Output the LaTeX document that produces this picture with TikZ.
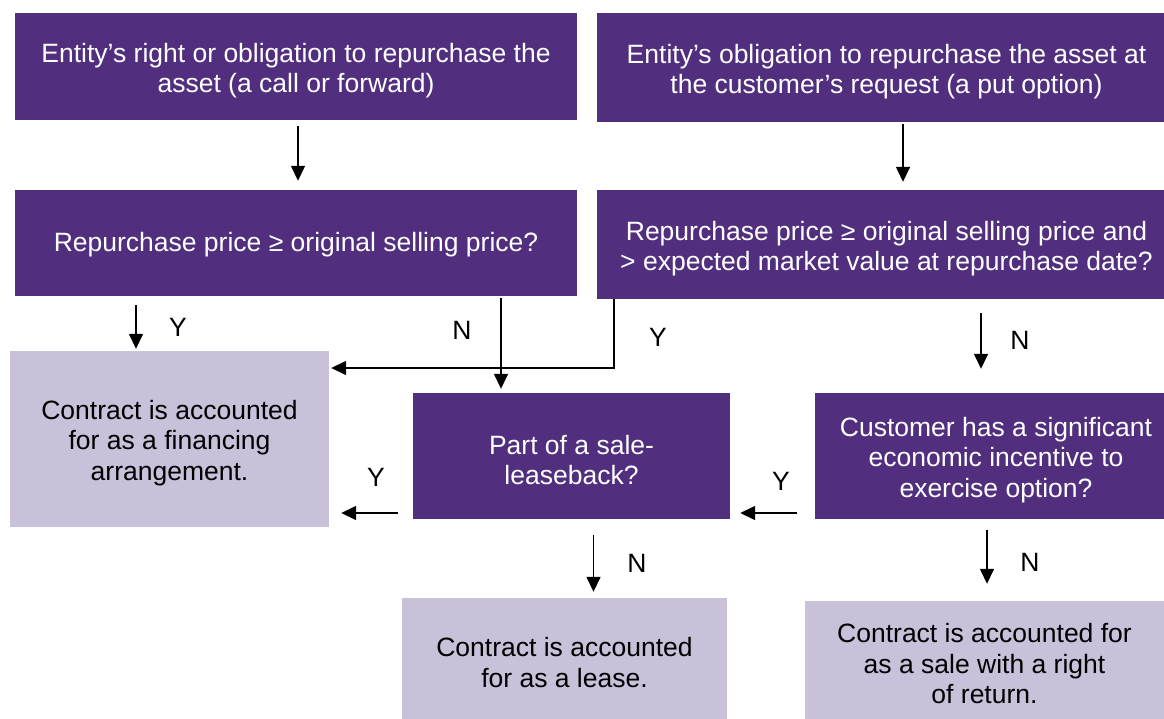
\documentclass[tikz,border=0pt]{standalone}
\usepackage{fontspec}
\setmainfont{Liberation Sans}
\usetikzlibrary{arrows.meta,calc}
\definecolor{dpurp}{HTML}{512F7E}
\definecolor{lpurp}{HTML}{C9C0DA}
\begin{document}
\begin{tikzpicture}[x=1pt,y=-1pt,
  lab/.style={font=\fontsize{26.5}{30.5}\selectfont, inner sep=0pt},
  box/.style={rectangle, inner sep=0pt},
  dark/.style={box, fill=dpurp},
  light/.style={box, fill=lpurp},
  dk/.style={dark, label={[lab,text=white,align=center,yshift=-4pt]center:{#1}}},
  dks/.style={dark, label={[lab,text=white,align=center,yshift=-1.5pt]center:{#1}}},
  lt/.style={light, label={[lab,text=black,align=center,yshift=-4pt]center:{#1}}},
  arr/.style={-{Triangle[length=15pt,width=14pt]}, line width=1.5pt}]
\useasboundingbox (0,0) rectangle (1164,719);
\clip (0,0) rectangle (1164,719);
% boxes
\node[dk={Entity’s right or obligation to repurchase the\\asset (a call or forward)},
  minimum width=562pt, minimum height=107pt] (tl) at (296,66.5) {};
\node[dk={Entity’s obligation to repurchase the asset at\\the customer’s request (a put option)},
  minimum width=579pt, minimum height=109pt] (tr) at (886.5,67.5) {};
\node[dks={Repurchase price ≥ original selling price?},
  minimum width=562pt, minimum height=106pt] (ml) at (296,243) {};
\node[dk={Repurchase price ≥ original selling price and\\> expected market value at repurchase date?},
  minimum width=579pt, minimum height=109pt] (mr) at (886.5,244.5) {};
\node[lt={Contract is accounted\\for as a financing\\arrangement.},
  minimum width=319pt, minimum height=176pt] (fin) at (169.5,439) {};
\node[dk={Part of a sale-\\leaseback?},
  minimum width=317pt, minimum height=126pt] (part) at (571.5,456) {};
\node[dk={Customer has a significant\\economic incentive to\\exercise option?},
  minimum width=362pt, minimum height=126pt] (cust) at (996,456) {};
\node[lt={Contract is accounted\\for as a lease.},
  minimum width=325pt, minimum height=121pt] (lease) at (564.5,658.5) {};
\node[lt={Contract is accounted for\\as a sale with a right\\of return.},
  minimum width=359pt, minimum height=118pt] (ret) at (984.5,660) {};
% connectors
\draw[arr] ($(tl.south)+(2,6)$) -- ($(ml.north)+(2,-9)$);
\draw[arr] ($(tr.south)+(16.5,2)$) -- ($(mr.north)+(16.5,-8)$);
\draw[arr] ($(ml.south)+(-160,9)$) -- ($(fin.north)+(-33.5,-2)$);
\node[lab] (y1) at (178,327) {Y};
\draw[arr] ($(ml.south)+(205,2)$) -- ($(part.north)+(-70.5,-4)$);
\node[lab] (n1) at (462,330) {N};
\draw[arr] ($(mr.south)+(-272.5,0)$) |- ($(fin.east)+(2,-71)$);
\node[lab] (y2) at (658,337) {Y};
\draw[arr] ($(mr.south)+(94.5,14)$) -- ($(cust.north)+(-15,-24)$);
\node[lab] (n2) at (1020,340) {N};
\draw[arr] ($(cust.west)+(-18,57)$) -- ($(part.east)+(10,57)$);
\node[lab] (y3) at (781,481) {Y};
\draw[arr] ($(part.west)+(-15,57)$) -- ($(fin.east)+(12,74)$);
\node[lab] (y4) at (376,477) {Y};
\draw[arr] ($(part.south)+(22,16)$) -- ($(lease.north)+(29,-6)$);
\node[lab] (n3) at (637,563) {N};
\draw[arr] ($(cust.south)+(-9,11)$) -- ($(ret.north)+(2.5,-17)$);
\node[lab] (n4) at (1030,562) {N};
\end{tikzpicture}
\end{document}
